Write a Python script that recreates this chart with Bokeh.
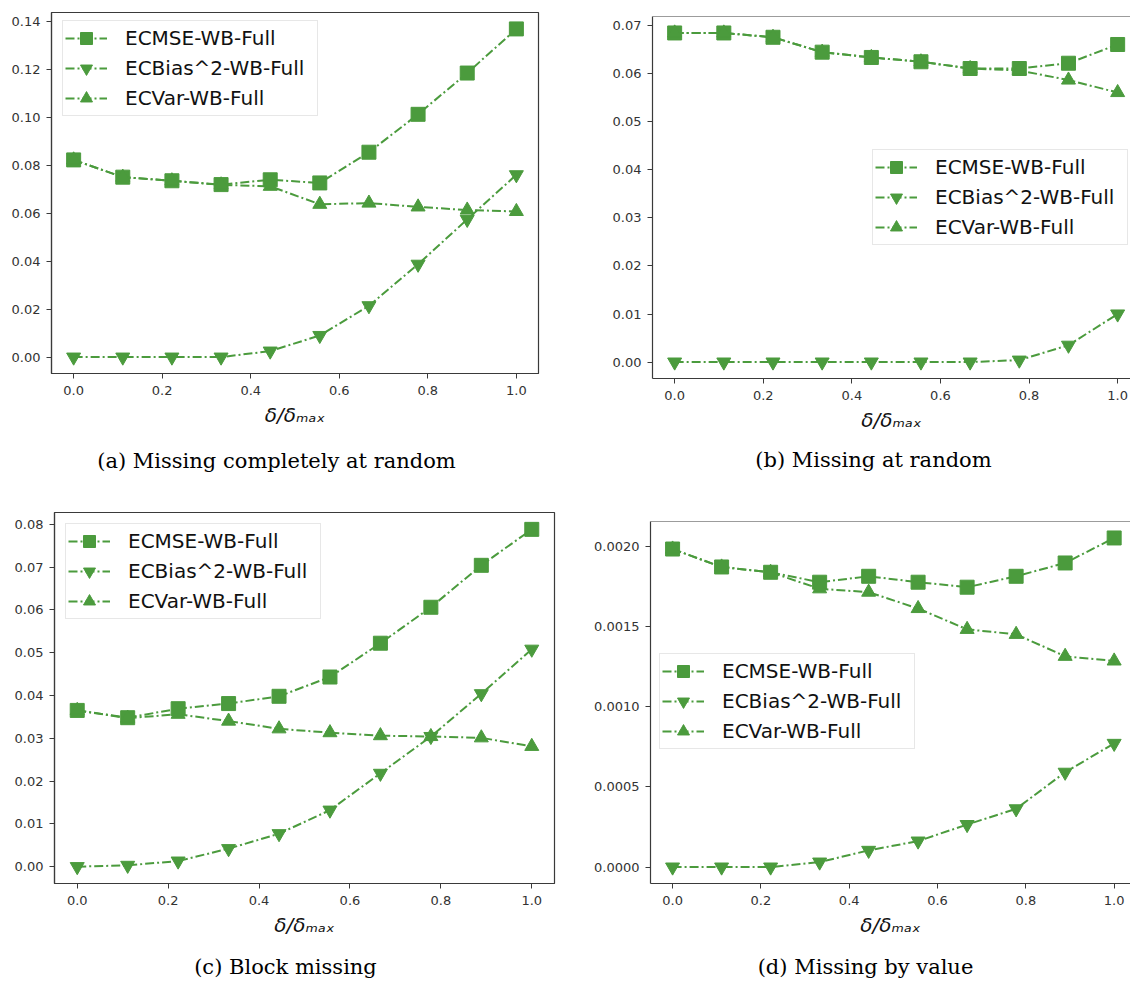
from bokeh.plotting import figure
from bokeh.layouts import column, row
from bokeh.models import (FixedTicker, PrintfTickFormatter, Legend, LegendItem,
                          Span, Range1d, Div)
from bokeh.embed import file_html
from bokeh.resources import INLINE

# ---------------- data ----------------
x_vals = [0.0, 0.111, 0.222, 0.333, 0.444, 0.556, 0.667, 0.778, 0.889, 1.0]
series_names = ["ECMSE-WB-Full", "ECBias^2-WB-Full", "ECVar-WB-Full"]
captions = ["(a) Missing completely at random", "(b) Missing at random",
            "(c) Block missing", "(d) Missing by value"]
x_axis_label = "\u03b4/\u03b4\u2098\u2090\u2093"

a_mse = [0.0822, 0.0750, 0.0735, 0.0719, 0.0739, 0.0726, 0.0854, 0.1012, 0.1184, 0.1368]
a_bias = [0.0, 0.0, 0.0, 0.0, 0.0025, 0.0090, 0.0214, 0.0387, 0.0574, 0.0760]
a_var = [0.0822, 0.0750, 0.0735, 0.0718, 0.0712, 0.0637, 0.0642, 0.0626, 0.0613, 0.0607]

b_mse = [0.0685, 0.0685, 0.0676, 0.0645, 0.0634, 0.0625, 0.0611, 0.0611, 0.0622, 0.0661]
b_bias = [0.0, 0.0, 0.0, 0.0, 0.0, 0.0, 0.0, 0.0004, 0.0035, 0.0100]
b_var = [0.0685, 0.0685, 0.0676, 0.0645, 0.0634, 0.0625, 0.0611, 0.0607, 0.0587, 0.0561]

c_mse = [0.0365, 0.0348, 0.0369, 0.0381, 0.0398, 0.0443, 0.0522, 0.0606, 0.0704, 0.0788]
c_bias = [0.0, 0.0003, 0.0013, 0.0042, 0.0077, 0.0132, 0.0218, 0.0304, 0.0404, 0.0508]
c_var = [0.0365, 0.0347, 0.0356, 0.0340, 0.0322, 0.0313, 0.0306, 0.0304, 0.0301, 0.0281]

d_mse = [0.001983, 0.001871, 0.001838, 0.001776, 0.001813, 0.001776, 0.001745, 0.001813, 0.001896, 0.002052]
d_bias = [0.0, 0.0, 0.0, 0.000031, 0.000104, 0.000162, 0.000265, 0.000363, 0.000591, 0.000771]
d_var = [0.001983, 0.001871, 0.001838, 0.001735, 0.001714, 0.001612, 0.001482, 0.001451, 0.001314, 0.001285]

x_ticks = [0.0, 0.2, 0.4, 0.6, 0.8, 1.0]
a_yticks = [0.0, 0.02, 0.04, 0.06, 0.08, 0.10, 0.12, 0.14]
b_yticks = [0.0, 0.01, 0.02, 0.03, 0.04, 0.05, 0.06, 0.07]
c_yticks = [0.0, 0.01, 0.02, 0.03, 0.04, 0.05, 0.06, 0.07, 0.08]
d_yticks = [0.0, 0.0005, 0.0010, 0.0015, 0.0020]

GREEN = "#4b9b3d"
AXIS = "#3a3a3a"
TICKTXT = "#333333"
markers = ["square", "inverted_triangle", "triangle"]


def make_panel(series, yticks, yfmt, geom):
    lo = min(min(s) for s in series)
    hi = max(max(s) for s in series)
    span = hi - lo
    y0, y1 = lo - 0.05 * span, hi + 0.05 * span
    p = figure(width=geom["w"], height=geom["h"],
               x_range=Range1d(-0.05, geom["xend"]), y_range=Range1d(y0, y1),
               output_backend="svg", toolbar_location=None, title=None,
               min_border_left=geom["bl"], min_border_right=geom["br"],
               min_border_top=geom["bt"], min_border_bottom=geom["bb"])
    p.xgrid.visible = False
    p.ygrid.visible = False
    p.background_fill_color = "white"
    p.border_fill_color = "white"
    if geom["outline"]:
        p.outline_line_color = AXIS
        p.outline_line_width = 1.2
    else:
        p.outline_line_color = None
        p.add_layout(Span(location=y1, dimension="width", line_color=AXIS, line_width=1.2))

    for ax in (p.xaxis[0], p.yaxis[0]):
        ax.axis_line_color = AXIS
        ax.axis_line_width = 1.2
        ax.major_tick_line_color = AXIS
        ax.major_tick_out = 5
        ax.major_tick_in = 0
        ax.minor_tick_line_color = None
        ax.major_label_text_font = "DejaVu Sans"
        ax.major_label_text_font_size = "13px"
        ax.major_label_text_color = TICKTXT
    p.xaxis.ticker = FixedTicker(ticks=x_ticks)
    p.xaxis.formatter = PrintfTickFormatter(format="%.1f")
    p.xaxis.major_label_standoff = 7
    p.xaxis.axis_label = x_axis_label
    p.xaxis.axis_label_text_font = "DejaVu Sans"
    p.xaxis.axis_label_text_font_style = "italic"
    p.xaxis.axis_label_text_font_size = "20px"
    p.xaxis.axis_label_text_color = "#111111"
    p.xaxis.axis_label_standoff = 5
    p.yaxis.ticker = FixedTicker(ticks=yticks)
    p.yaxis.formatter = PrintfTickFormatter(format=yfmt)
    p.yaxis.major_label_standoff = 6

    items = []
    for name, ys, mk in zip(series_names, series, markers):
        lr = p.line(x_vals, ys, line_color=GREEN, line_width=2, line_dash="9 3 2 3")
        sr = p.scatter(x_vals, ys, marker=mk, size=14, fill_color=GREEN,
                       line_color=GREEN, line_width=1)
        items.append(LegendItem(label=name, renderers=[lr, sr]))
    leg = Legend(items=items, location=geom["leg"],
                 label_text_font="DejaVu Sans", label_text_font_size="20px",
                 label_text_color="#111111",
                 glyph_width=42, glyph_height=30, label_height=30, label_width=190,
                 label_standoff=18, spacing=0, padding=2, margin=0,
                 border_line_color="#d0d0d0", border_line_width=1,
                 background_fill_color="white", background_fill_alpha=0.85)
    p.add_layout(leg)
    return p


def make_caption(text, width, height, dx, pad_top):
    html = ('<div style="width:%dpx; text-align:center; font-family:\'DejaVu Serif\', serif; '
            'font-size:21px; line-height:21px; color:#000; padding-top:%dpx; '
            'transform:translateX(%dpx); white-space:nowrap;">%s</div>'
            % (width, pad_top, dx, text))
    return Div(text=html, width=width, height=height, margin=0)


pa = make_panel([a_mse, a_bias, a_var], a_yticks, "%.2f",
                dict(w=565, h=448, bl=51, br=27, bt=12, bb=75, xend=1.05,
                     outline=True, leg=(11, 257)))
pb = make_panel([b_mse, b_bias, b_var], b_yticks, "%.2f",
                dict(w=565, h=448, bl=87, br=0, bt=16, bb=70, xend=1.029,
                     outline=False, leg=(220, 133)))
pc = make_panel([c_mse, c_bias, c_var], c_yticks, "%.2f",
                dict(w=565, h=455, bl=54, br=11, bt=17, bb=67, xend=1.05,
                     outline=True, leg=(11, 264)))
pd_ = make_panel([d_mse, d_bias, d_var], d_yticks, "%.4f",
                 dict(w=565, h=455, bl=85, br=0, bt=26, bb=67, xend=1.037,
                      outline=False, leg=(9, 134)))

ca = make_caption(captions[0], 565, 47, -6, 3)
cb = make_caption(captions[1], 565, 47, 26, 2)
cc = make_caption(captions[2], 565, 33, 3, 7)
cd = make_caption(captions[3], 565, 33, 18, 7)

layout = column(row(column(pa, ca, spacing=0), column(pb, cb, spacing=0), spacing=0),
                row(column(pc, cc, spacing=0), column(pd_, cd, spacing=0), spacing=0),
                spacing=0)

with open("out.html", "w") as f:
    f.write(file_html(layout, INLINE))
